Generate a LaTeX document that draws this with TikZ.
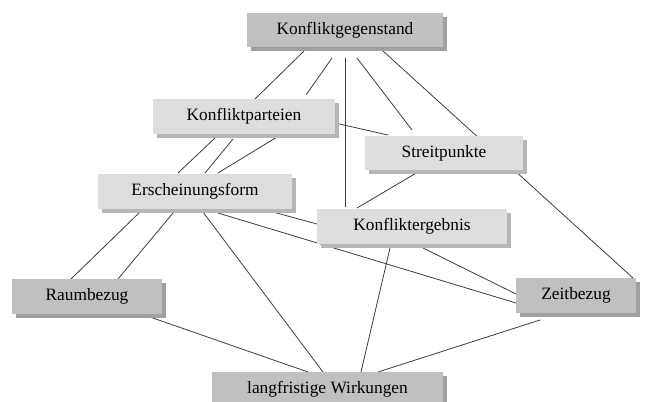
\documentclass[tikz,border=0pt]{standalone}
\usepackage{fontspec}
\setmainfont{Liberation Serif}
\usetikzlibrary{calc, backgrounds, shadows}
\definecolor{boxdark}{RGB}{192, 192, 192}
\definecolor{boxlight}{RGB}{221, 221, 221}
\definecolor{shadedark}{RGB}{160, 160, 160}
\definecolor{shadelight}{RGB}{182, 182, 182}
\definecolor{linkgray}{RGB}{60, 60, 60}
\tikzstyle{mainbox} = [rectangle, minimum height=26pt, inner sep=0pt, text centered, fill=boxdark,
                       drop shadow={shadow xshift=3pt, shadow yshift=-3pt, fill=shadedark, opacity=1}]
\tikzstyle{subbox}  = [rectangle, minimum height=26pt, inner sep=0pt, text centered, fill=boxlight,
                       drop shadow={shadow xshift=3pt, shadow yshift=-3pt, fill=shadelight, opacity=1}]
\tikzstyle{link}    = [draw=linkgray, line width=0.6pt]

\begin{document}
\begin{tikzpicture}[x=0.75pt, y=-0.75pt, every node/.style={font=\fontsize{13}{15}\selectfont}]
  \useasboundingbox (0,0) rectangle (646,401);

  \node (kg) [mainbox, minimum width=147pt]    at (345,30)    {Konfliktgegenstand};
  \node (kp) [subbox,  minimum width=136.5pt]  at (244,116.5) {Konfliktparteien};
  \node (sp) [subbox,  minimum width=118.5pt]  at (444,153)   {Streitpunkte};
  \node (es) [subbox,  minimum width=145.5pt]  at (195,191.5) {Erscheinungsform};
  \node (ke) [subbox,  minimum width=142.5pt]  at (412,226.5) {Konfliktergebnis};
  \node (rb) [mainbox, minimum width=112.5pt]  at (87,296.5)  {Raumbezug};
  \node (zb) [mainbox, minimum width=90pt]     at (576,295.5) {Zeitbezug};
  \node (lw) [mainbox, minimum width=173.25pt] at (327.5,389.5) {langfristige Wirkungen};

  % connectors run behind the boxes
  \begin{scope}[on background layer]
    \draw [link] ($(kg)+(-41,21)$) -- ($(kp)+(11,-17.5)$);
    \draw [link] ($(kg)+(-13,28)$) -- ($(kp)+(62,-21.5)$);
    \draw [link] ($(kg)+(0,28)$)   -- ($(ke)+(-67,-19.5)$);
    \draw [link] ($(kg)+(12,28)$)  -- ($(sp)+(-32,-23)$);
    \draw [link] ($(kg)+(38,21)$)  -- ($(zb)+(57,-17.5)$);
    \draw [link] ($(kp)+(91,6.5)$) -- ($(sp)+(-56,-18)$);
    \draw [link] ($(kp)+(-29,21.5)$) -- ($(es)+(-17,-18.5)$);
    \draw [link] ($(kp)+(-11,22.5)$) -- ($(es)+(10,-18.5)$);
    \draw [link] ($(kp)+(33,20.5)$)  -- ($(es)+(23,-18.5)$);
    \draw [link] ($(sp)+(-26,19)$)   -- ($(ke)+(-55,-18.5)$);
    \draw [link] ($(es)+(-56,21.5)$) -- ($(rb)+(-16,-17.5)$);
    \draw [link] ($(es)+(-22,21.5)$) -- ($(rb)+(31,-17.5)$);
    \draw [link] ($(es)+(8,20.5)$)   -- ($(lw)+(-4.5,-17.5)$);
    \draw [link] ($(es)+(78,20.5)$)  -- ($(ke)+(-95,-2.5)$);
    \draw [link] ($(es)+(23,21.5)$)  -- ($(zb)+(-60,7.5)$);
    \draw [link] ($(ke)+(11,21.5)$)  -- ($(zb)+(-60,-1.5)$);
    \draw [link] ($(ke)+(-22,21.5)$) -- ($(lw)+(33.5,-17.5)$);
    \draw [link] ($(rb)+(63,20.5)$)  -- ($(lw)+(-19.5,-17.5)$);
    \draw [link] ($(zb)+(-36,24.5)$) -- ($(lw)+(50.5,-17.5)$);
  \end{scope}
\end{tikzpicture}
\end{document}
